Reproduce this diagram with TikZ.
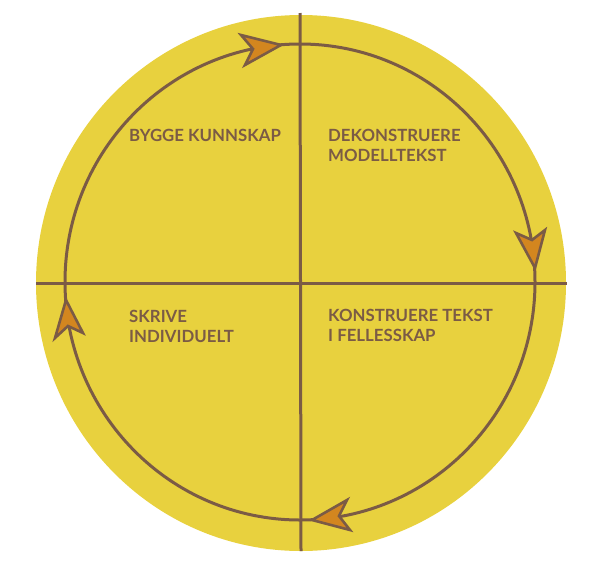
\documentclass[tikz,border=0pt]{standalone}
\usepackage{fontspec}
\setmainfont{Lato}
\definecolor{disc}{HTML}{E8D13E}
\definecolor{ink}{HTML}{7B5B45}
\definecolor{tipfill}{HTML}{D3861F}
\begin{document}
\begin{tikzpicture}[x=1pt,y=-1pt,
  axis/.style={draw=ink,line width=3pt},
  ring/.style={draw=ink,line width=3pt},
  tiphead/.style={draw=ink,fill=tipfill,line width=2.6pt,line join=miter,miter limit=10},
  label/.style={anchor=north west,inner sep=0pt,align=left,text=ink,font=\fontsize{16.8}{20.5}\selectfont\bfseries}]
\useasboundingbox (0,0) rectangle (594,581);
\fill[disc] (301,283) ellipse [x radius=265, y radius=268];
\coordinate (top) at (300,13);
\coordinate (bot) at (301,551);
\coordinate (lft) at (36,283);
\coordinate (rgt) at (567,283);
\draw[axis] (top) -- (bot);
\draw[axis] (lft) -- (rgt);
\draw[ring] (300,282) ellipse [x radius=235, y radius=238];
% arrowheads
\filldraw[tiphead] (281,45) -- (241,35) -- (253,49) -- (245,65) -- cycle;
\filldraw[tiphead] (535,268) -- (516,233) -- (532,240) -- (545,230) -- cycle;
\filldraw[tiphead] (312,520) -- (347,500) -- (339,516) -- (350,530) -- cycle;
\filldraw[tiphead] (66,300) -- (55,338) -- (68,326) -- (83,333) -- cycle;
% labels
\node[label] (q1) at (129,129) {BYGGE KUNNSKAP};
\node[label] (q2) at (328,129) {DEKONSTRUERE\\MODELLTEKST};
\node[label] (q3) at (129,310) {SKRIVE\\INDIVIDUELT};
\node[label] (q4) at (328,309) {KONSTRUERE TEKST\\I FELLESSKAP};
\end{tikzpicture}
\end{document}
